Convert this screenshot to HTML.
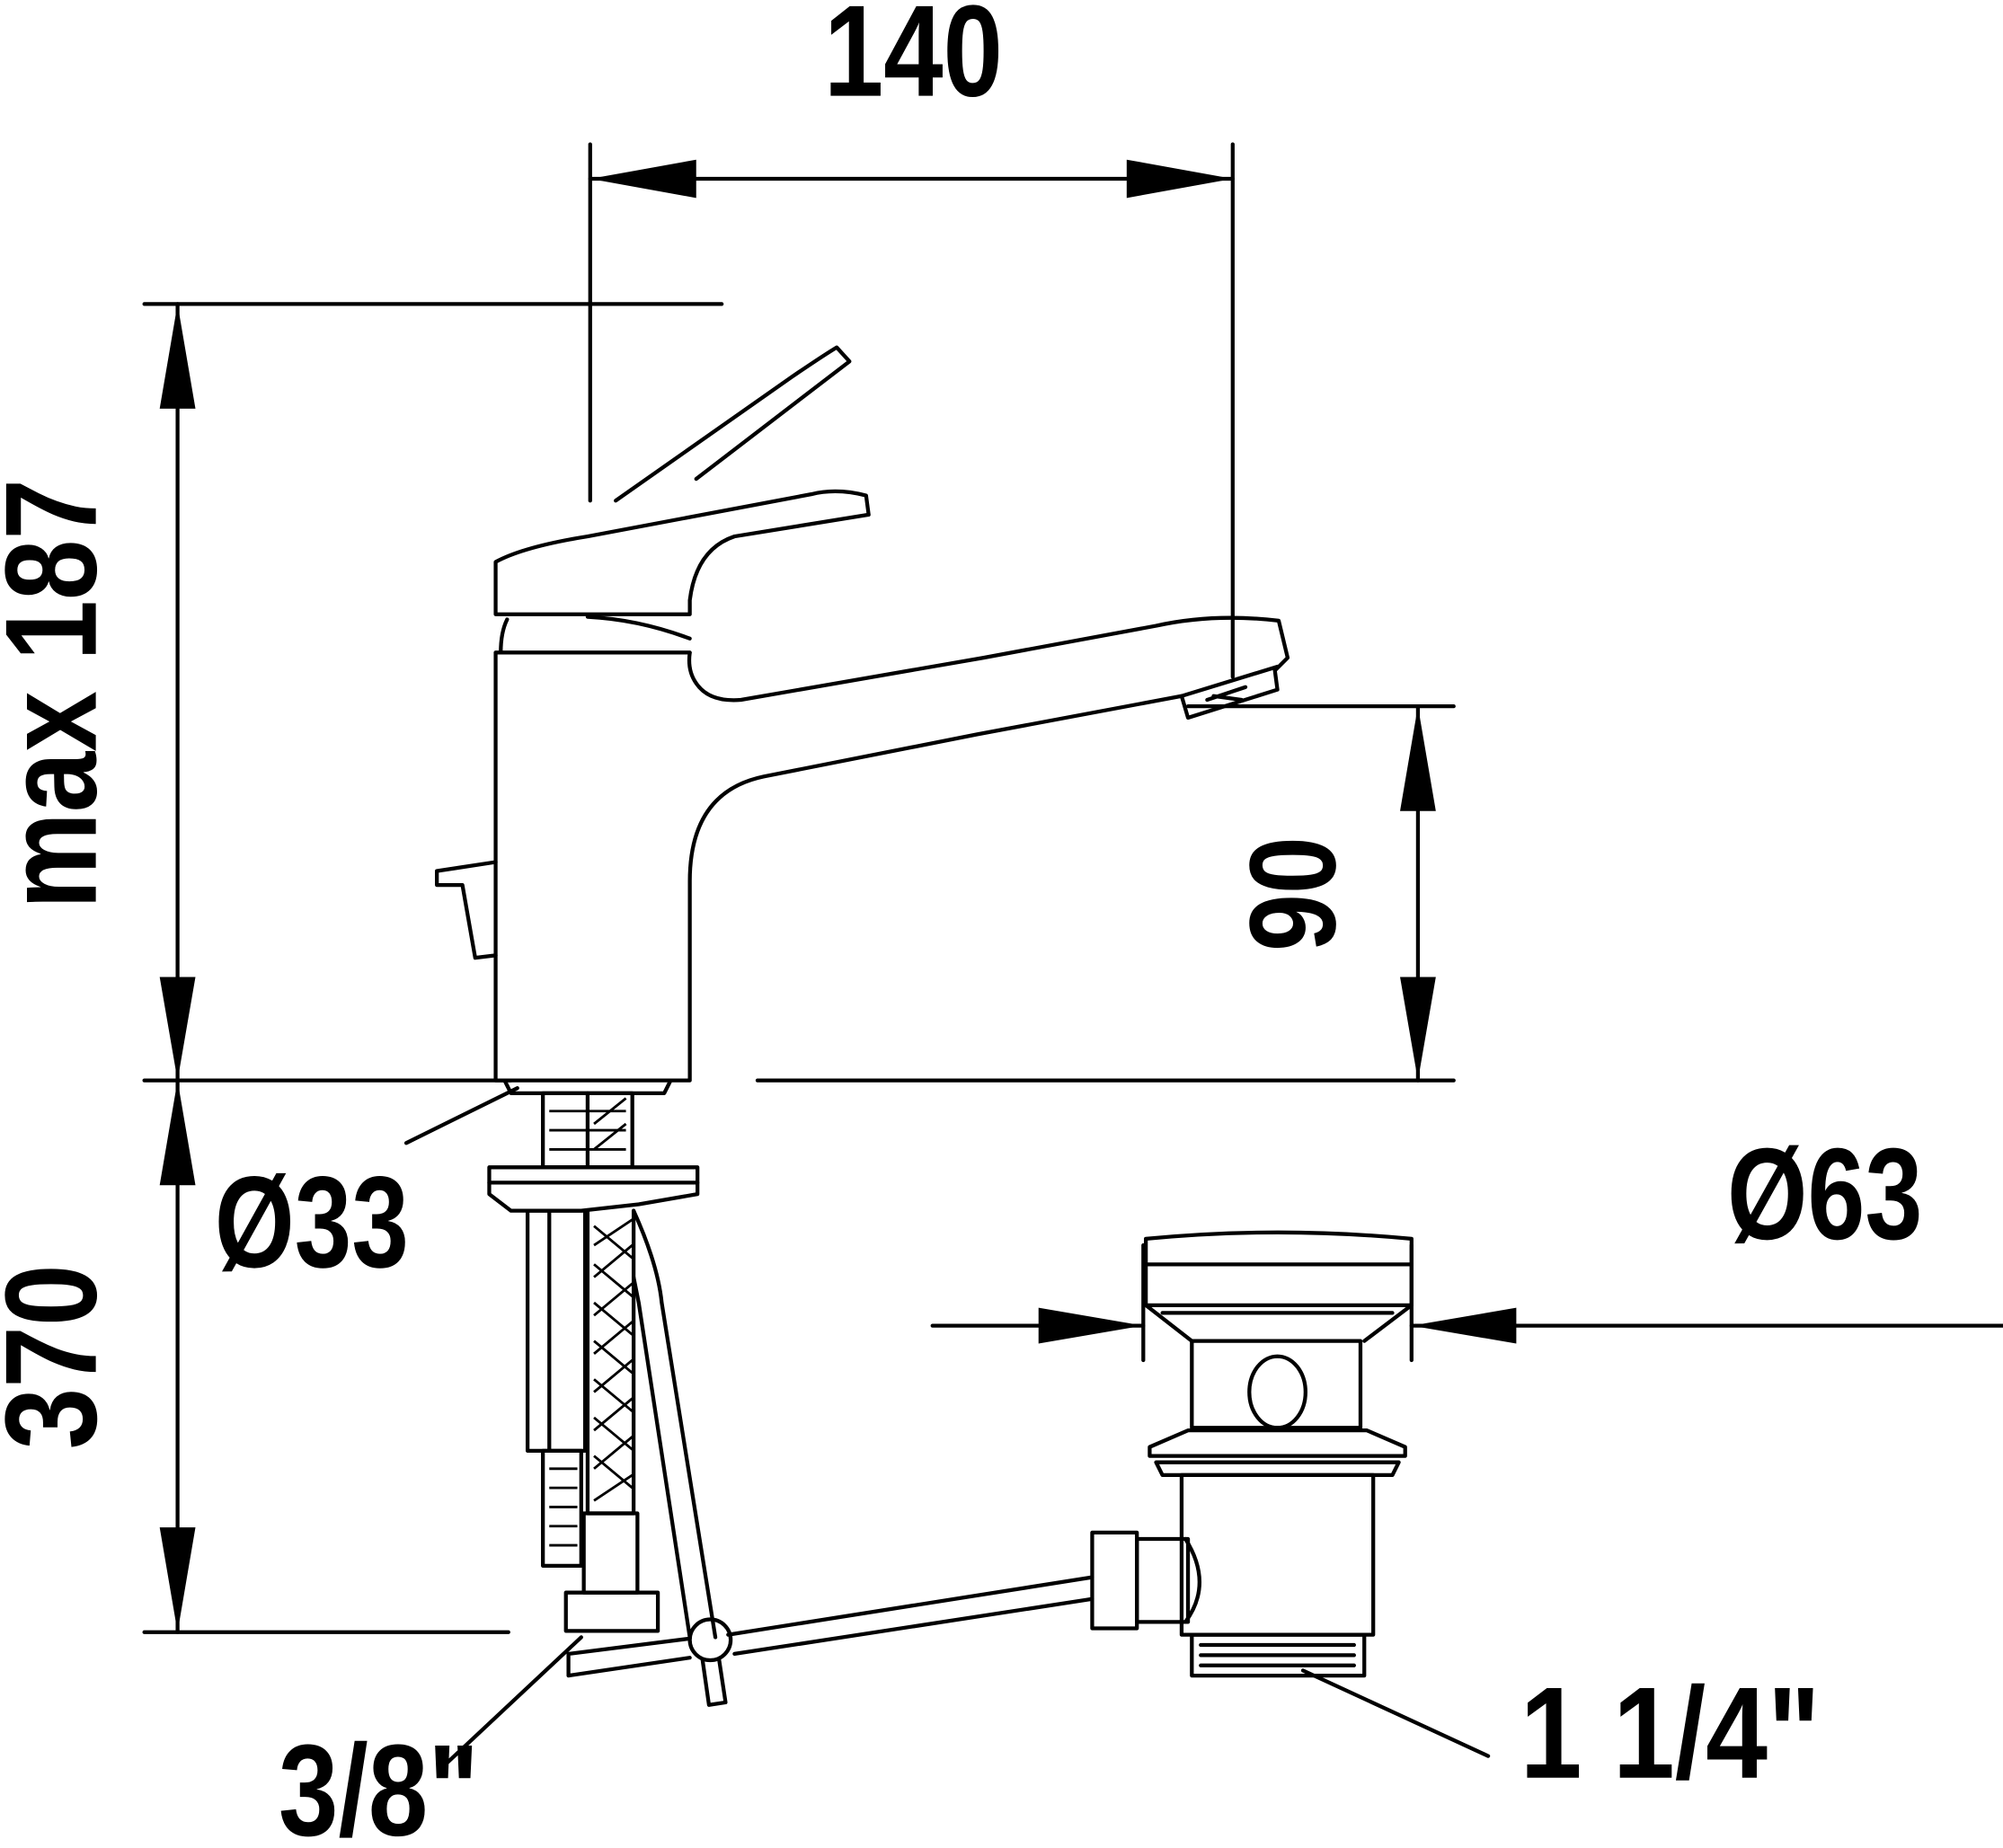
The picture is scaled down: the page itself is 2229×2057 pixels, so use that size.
<!DOCTYPE html>
<html><head><meta charset="utf-8"><style>
html,body{margin:0;padding:0;background:#fff;}
svg{display:block;}
text{font-family:"Liberation Sans Narrow","Liberation Sans",sans-serif;font-weight:bold;fill:#000;}
</style></head><body>
<svg width="2229" height="2057" viewBox="0 0 1568 1447" xmlns="http://www.w3.org/2000/svg">
<g fill="none" stroke="#000" stroke-width="3" stroke-linecap="round" stroke-linejoin="round">
<line x1="462" y1="113" x2="462" y2="392"/>
<line x1="965" y1="113" x2="965" y2="530"/>
<line x1="462" y1="140" x2="965" y2="140"/>
<line x1="113" y1="238" x2="565" y2="238"/>
<line x1="139" y1="238" x2="139" y2="1278"/>
<line x1="113" y1="846" x2="400" y2="846"/>
<line x1="593" y1="846" x2="1138" y2="846"/>
<line x1="113" y1="1278" x2="398" y2="1278"/>
<line x1="930" y1="553" x2="1138" y2="553"/>
<line x1="1110" y1="553" x2="1110" y2="846"/>
<line x1="730" y1="1038" x2="895" y2="1038"/>
<line x1="1105" y1="1038" x2="1568" y2="1038"/>
<line x1="895" y1="975" x2="895" y2="1065"/>
<line x1="1105" y1="975" x2="1105" y2="1065"/>
<line x1="318" y1="895" x2="405" y2="852"/>
<line x1="345" y1="1385" x2="455" y2="1282"/>
<line x1="1165" y1="1375" x2="1020" y2="1308"/>
<path d="M482 392 L620 295 Q645 278 655 272 L665 283 L545 375"/>
<path d="M388 440 L388 481 L540 481 L540 470 Q545 430 575 420 L680 403 L678 388 Q655 382 635 387 L460 420 Q410 428 388 440 Z"/>
<path d="M397 485 Q392 495 392 511 M540 500 Q500 485 460 483"/>
<path d="M388 511 L388 846 L540 846 L540 690 Q540 620 598 608 L765 575 L925 545 L930 562 L1000 540 L998 525 L1008 515 L1001 486 Q950 480 905 490 L770 515 L580 548 Q555 550 545 535 Q538 525 540 511 Z"/>
<line x1="388" y1="511" x2="540" y2="511"/>
<path d="M925 545 L1000 522"/>
<path d="M945 548 L975 538 M950 545 L972 548"/>
<path d="M388 675 L342 682 L342 693 L362 693 L372 750 L388 748"/>
<path d="M395 846 L400 856 L520 856 L525 846"/>
<rect x="425" y="856" width="70" height="58"/>
<line x1="460" y1="856" x2="460" y2="914"/>
<path d="M383 914 L546 914 L546 935 L500 943 L455 948 L400 948 L383 935 Z"/>
<line x1="383" y1="926" x2="546" y2="926"/>
<rect x="413" y="948" width="45" height="188"/>
<line x1="430" y1="948" x2="430" y2="1136"/>
<rect x="425" y="1136" width="30" height="90"/>
<path d="M460 948 L460 1185 L496 1185 L496 948"/>
<path d="M496 948 Q515 990 518 1020 L560 1282"/>
<path d="M496 1000 L500 1020 L540 1282"/>
<rect x="457" y="1185" width="42" height="62"/>
<rect x="443" y="1247" width="72" height="30"/>
<path d="M445 1295 L540 1283 M445 1312 L540 1298 M575 1295 L855 1252 M570 1280 L855 1235 M445 1295 L445 1312"/>
<path d="M550 1300 L555 1335 L568 1333 L563 1300"/>
<circle cx="556" cy="1284" r="16"/>
<rect x="855" y="1200" width="35" height="75"/>
<rect x="890" y="1205" width="40" height="65"/>
<path d="M928 1205 Q950 1240 928 1270"/>
<path d="M897 970 Q1000 960 1105 970 L1105 1022 L897 1022 Z"/>
<line x1="897" y1="990" x2="1105" y2="990"/>
<path d="M897 1022 L933 1050 M1105 1022 L1068 1050 M910 1028 L1090 1028"/>
<rect x="933" y="1050" width="132" height="68"/>
<ellipse cx="1000" cy="1090" rx="22" ry="28"/>
<path d="M900 1133 L930 1120 L1070 1120 L1100 1133 L1100 1140 L900 1140 Z"/>
<path d="M905 1145 L1095 1145 L1090 1155 L910 1155 Z"/>
<rect x="925" y="1155" width="150" height="125"/>
<rect x="933" y="1280" width="135" height="32"/>
<path d="M940 1288 L1060 1288 M940 1296 L1060 1296 M940 1304 L1060 1304"/>
</g>
<g stroke="#000" stroke-width="2" fill="none">
<path d="M430 870 L490 870 M430 885 L490 885 M430 900 L490 900 M430 1150 L452 1150 M430 1165 L452 1165 M430 1180 L452 1180 M430 1195 L452 1195 M430 1210 L452 1210"/>
<path d="M465 880 L490 860 M465 900 L490 880 M465 975 L495 955 M465 1000 L495 975 M465 1030 L495 1005 M465 1060 L495 1035 M465 1090 L495 1065 M465 1120 L495 1095 M465 1150 L495 1125 M465 1175 L495 1155"/>
<path d="M465 960 L495 985 M465 990 L495 1015 M465 1020 L495 1045 M465 1050 L495 1075 M465 1080 L495 1105 M465 1110 L495 1135 M465 1140 L495 1165"/>
</g>
<g fill="#000">
<polygon points="462,140 545,125 545,155"/>
<polygon points="965,140 882,125 882,155"/>
<polygon points="139,238 125,320 153,320"/>
<polygon points="139,846 125,765 153,765"/>
<polygon points="139,846 125,928 153,928"/>
<polygon points="139,1278 125,1196 153,1196"/>
<polygon points="1110,553 1096,635 1124,635"/>
<polygon points="1110,846 1096,765 1124,765"/>
<polygon points="895,1038 813,1024 813,1052"/>
<polygon points="1105,1038 1187,1024 1187,1052"/>
</g>
<text x="645" y="75" font-size="102" textLength="140" lengthAdjust="spacingAndGlyphs">140</text>
<text transform="translate(75,712) rotate(-90)" font-size="102" textLength="337" lengthAdjust="spacingAndGlyphs">max 187</text>
<text transform="translate(75,1135) rotate(-90)" font-size="102" textLength="145" lengthAdjust="spacingAndGlyphs">370</text>
<text transform="translate(1045,745) rotate(-90)" font-size="96" textLength="90" lengthAdjust="spacingAndGlyphs">90</text>
<text x="168" y="992" font-size="102" textLength="152" lengthAdjust="spacingAndGlyphs">Ø33</text>
<text x="1352" y="970" font-size="102" textLength="153" lengthAdjust="spacingAndGlyphs">Ø63</text>
<text x="218" y="1437" font-size="102" textLength="157" lengthAdjust="spacingAndGlyphs">3/8"</text>
<text x="1190" y="1392" font-size="102" textLength="235" lengthAdjust="spacingAndGlyphs">1 1/4"</text>
</svg>
</body></html>
